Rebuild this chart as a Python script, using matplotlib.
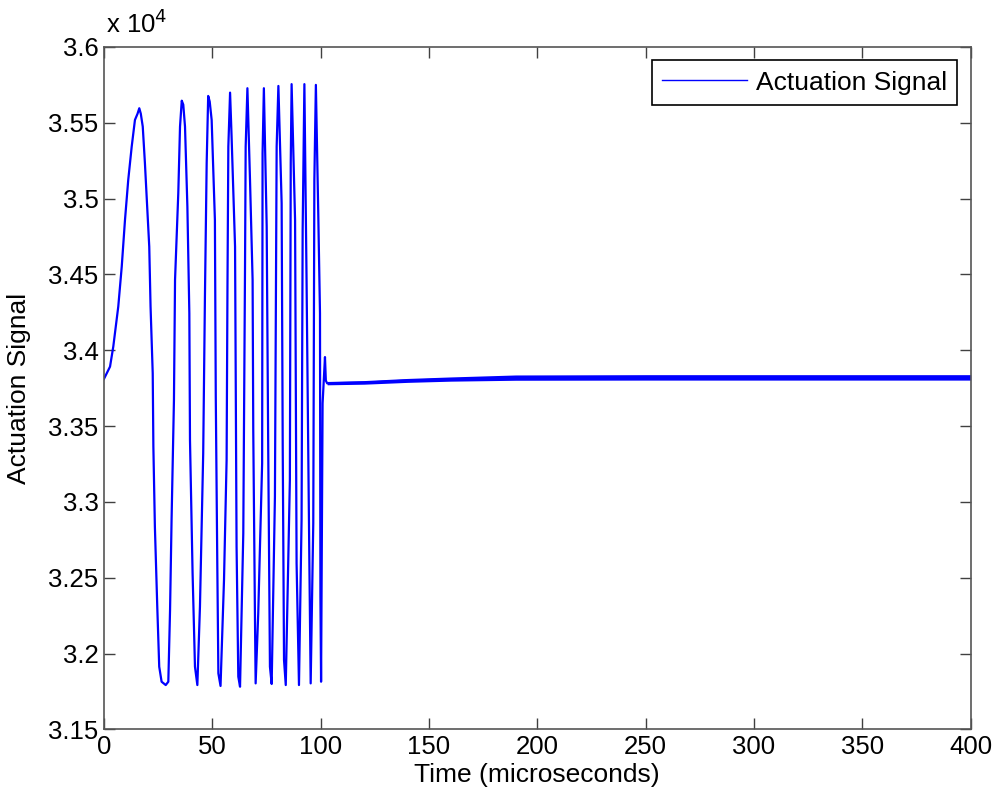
import numpy as np
import matplotlib
matplotlib.use('Agg')
import matplotlib.pyplot as plt

plt.rcParams['font.family'] = ['Liberation Sans', 'DejaVu Sans']

# (time, value) corner points of the signal
t_osc = [0.0, 2.8, 4.3, 6.6, 8.2, 9.7, 11.2, 12.8, 14.3, 15.5, 16.3, 17.0,
         17.9, 18.9, 19.7, 20.9, 21.5, 22.5, 22.8, 23.5, 24.6, 25.5, 26.6, 28.5, 29.7,
         30.5, 31.2, 32.3, 32.8, 34.3, 35.1, 35.9, 36.6,
         37.4, 38.5, 39.4, 39.7, 40.9, 42.0, 43.1,
         44.3, 45.8, 46.6, 47.4, 48.1, 48.8,
         49.7, 51.2, 51.6, 52.3, 52.8, 53.8,
         55.4, 56.6, 57.0, 57.4, 58.2,
         58.9, 60.5, 61.2, 62.0, 62.8,
         64.3, 65.1, 65.4, 66.2,
         67.4, 68.6, 68.9, 69.7, 70.0,
         71.2, 73.0, 73.2, 73.8,
         75.1, 75.8, 76.6, 77.4,
         78.9, 79.7, 80.5,
         82.0, 82.5, 83.1, 83.9,
         85.8, 86.2, 86.6,
         88.2, 88.9, 90.0,
         91.2, 91.7, 92.5,
         93.5, 94.8, 95.4,
         96.6, 97.1, 97.8,
         98.9, 99.7, 99.9, 100.2,
         100.9, 102.0, 102.4, 103.0,
         120, 140, 160, 190, 250, 400]
v_osc = [33811, 33892, 34024, 34288, 34551, 34859, 35123, 35343, 35519, 35560, 35596, 35560,
         35475, 35234, 35013, 34683, 34288, 33848, 33364, 32836, 32309, 31913, 31814, 31792, 31814,
         32287, 32881, 33672, 34464, 35036, 35475, 35646, 35620,
         35475, 34947, 34244, 33408, 32529, 31913, 31792,
         32309, 33320, 34354, 35234, 35677, 35640,
         35519, 34859, 33694, 32595, 31869, 31786,
         32485, 33276, 34420, 35343, 35699,
         35409, 34683, 32705, 31847, 31781,
         32793, 34551, 35343, 35728,
         35123, 34464, 33475, 32221, 31803,
         32265, 33255, 35299, 35728,
         34815, 33364, 31913, 31799,
         33034, 35343, 35743,
         34970, 33364, 31957, 31792,
         33144, 35234, 35755,
         34859, 32595, 31792,
         32881, 34793, 35755,
         34464, 32595, 31803,
         32859, 35123, 35750,
         34903, 34244, 32375, 31814,
         33650, 33955, 33800, 33782,
         33786, 33800, 33808, 33818, 33820, 33820]

# steady-state ripple band (lower / upper edge)
band_t = [103, 120, 140, 160, 190, 250, 400]
band_lo = [33772, 33776, 33788, 33796, 33802, 33803, 33803]
band_hi = [33794, 33800, 33814, 33824, 33837, 33839, 33839]

xticks = [0, 50, 100, 150, 200, 250, 300, 350, 400]
yticks = [31500, 32000, 32500, 33000, 33500, 34000, 34500, 35000, 35500, 36000]
ytick_labels = ['3.15', '3.2', '3.25', '3.3', '3.35', '3.4', '3.45', '3.5', '3.55', '3.6']

fig = plt.figure(figsize=(9.93, 7.99), dpi=100)
ax = fig.add_axes([0.1047, 0.0872, 0.9775 - 0.1047, 0.9412 - 0.0872])

ax.fill_between(band_t, band_lo, band_hi, color='#0000ff', lw=0)
ax.plot(t_osc, v_osc, color='#0000ff', lw=1.6, label='Actuation Signal')

ax.set_xlim(0, 400)
ax.set_ylim(31500, 36000)
ax.set_xticks(xticks)
ax.set_yticks(yticks)
ax.set_yticklabels(ytick_labels)
ax.tick_params(direction='in', length=8, width=1, colors='#404040',
               labelcolor='black', labelsize=18.5, top=True, right=True, pad=4)
for s in ax.spines.values():
    s.set_color('#555555')
    s.set_linewidth(1.2)

ax.set_xlabel('Time (microseconds)', fontsize=19, labelpad=3)
ax.set_ylabel('Actuation Signal', fontsize=19)
ax.yaxis.set_label_coords(-0.084, 0.5)
ax.text(0.002, 1.013, r'x 10$^{4}$', transform=ax.transAxes, fontsize=18.5,
        ha='left', va='bottom')

leg_line = plt.Line2D([], [], color='#0000ff', lw=1)
leg = ax.legend([leg_line], ['Actuation Signal'], loc='upper right', fontsize=19,
                fancybox=False, edgecolor='black', framealpha=1,
                handlelength=3.2, handletextpad=0.35, borderpad=0.4,
                borderaxespad=0.5)
leg.get_frame().set_linewidth(1.2)

fig.savefig('out.png', dpi=100)
